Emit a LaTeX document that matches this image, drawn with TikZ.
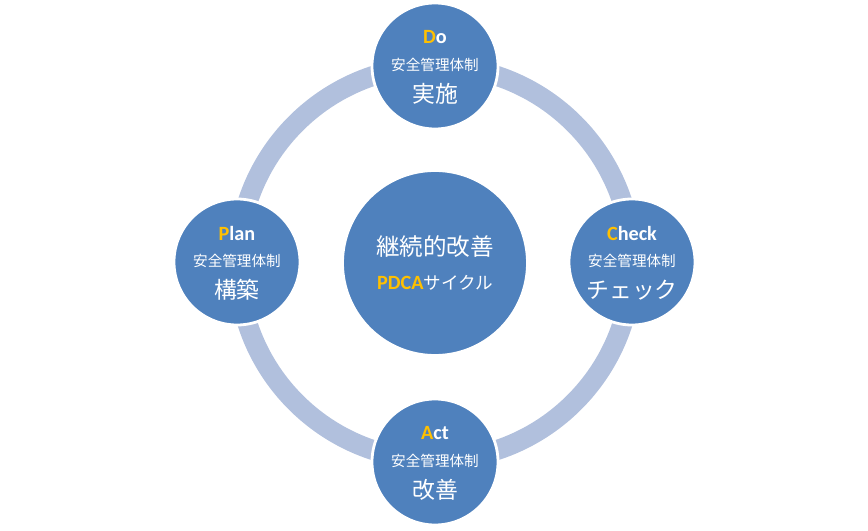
\documentclass[tikz,border=0pt]{standalone}
\usepackage{fontspec}
\setmainfont{Carlito}
\newfontfamily\jpfont{Noto Sans CJK JP}
\usetikzlibrary{calc}
\definecolor{pdcablue}{RGB}{79,129,189}
\definecolor{pdcaring}{RGB}{177,192,221}
\definecolor{pdcagold}{RGB}{255,192,0}
\tikzset{
  stage/.style={circle, fill=pdcablue, draw=white, line width=1.6pt,
                minimum size=2.52cm, inner sep=0pt},
  core/.style={stage, minimum size=3.7cm},
  ring/.style={draw=pdcaring, line width=0.4cm},
  headtxt/.style={font=\fontsize{11.5}{13}\selectfont\bfseries, text=white, inner sep=0pt},
  subtxt/.style={font=\jpfont\fontsize{8.3}{10}\selectfont, text=white, inner sep=0pt},
  maintxt/.style={font=\jpfont\fontsize{13}{15}\selectfont, text=white, inner sep=0pt},
}
\begin{document}
\begin{tikzpicture}
\useasboundingbox (-8.7,5.26) rectangle (8.66,-5.34);

% ---------------- cycle ring ----------------
\coordinate (mid) at (0,0);
\draw[ring] (mid) circle (3.94cm);

% ---------------- PDCA stages ----------------
\foreach \n/\x/\y/\ini/\rest/\word in {%
    do/0/3.94/D/o/実施,
    chk/3.94/0.02/C/heck/チェック,
    act/0/-3.98/A/ct/改善,
    plan/-3.96/0.02/P/lan/構築} {
  \node[stage] (\n) at (\x,\y) {};
  \node[headtxt] (\n-head) at ($(\n)+(0,0.58)$) {{\color{pdcagold}\ini}\rest};
  \node[subtxt] (\n-sub) at ($(\n)+(0,0.02)$) {安全管理体制};
  \node[maintxt] (\n-main) at ($(\n)+(0,-0.56)$) {\word};
}

% ---------------- centre ----------------
\node[core] (hub) at (mid) {};
\node[maintxt, font=\jpfont\fontsize{13.4}{15}\selectfont] (hub-title)
  at ($(hub)+(0,0.32)$) {継続的改善};
\node[headtxt] (hub-sub) at ($(hub)+(0,-0.4)$)
  {{\color{pdcagold}PDCA}{\jpfont\mdseries\fontsize{10}{12}\selectfont サイクル}};
\end{tikzpicture}
\end{document}
